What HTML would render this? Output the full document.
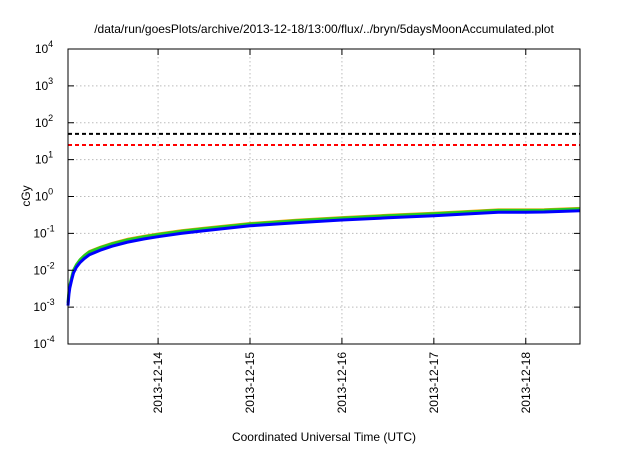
<!DOCTYPE html>
<html><head><meta charset="utf-8"><style>
body{margin:0;background:#fff;font-family:"Liberation Sans",sans-serif;}
svg text{font-family:"Liberation Sans",sans-serif;fill:#000;}
</style></head><body>
<svg width="640" height="448" id="c">
<text x="324" y="33" font-size="12" text-anchor="middle">/data/run/goesPlots/archive/2013-12-18/13:00/flux/../bryn/5daysMoonAccumulated.plot</text>
<text x="324" y="441" font-size="12" text-anchor="middle">Coordinated Universal Time (UTC)</text>
<text x="30" y="196" font-size="12" text-anchor="middle" transform="rotate(-90 30 196)">cGy</text>
<g id="grid"></g><g id="series"></g><g id="axes"></g>
</svg>
<script>
const xTickLabels=["2013-12-14","2013-12-15","2013-12-16","2013-12-17","2013-12-18"];
const xTickDays=[1,2,3,4,5];
const yTickExps=[-4,-3,-2,-1,0,1,2,3,4];
const days=[0.02,0.03,0.04,0.06,0.08,0.11,0.15,0.2,0.25,0.37,0.5,0.67,0.85,1.0,1.25,1.5,2.0,2.5,3.0,3.5,4.0,4.5,4.7,5.0,5.2,5.59];
const blue=[0.0011,0.0022,0.0033,0.0055,0.0085,0.012,0.016,0.021,0.026,0.035,0.045,0.058,0.071,0.081,0.1,0.118,0.16,0.195,0.23,0.265,0.3,0.35,0.375,0.375,0.38,0.41];
const green=[0.0013,0.0026,0.0039,0.0065,0.01,0.014,0.019,0.025,0.031,0.041,0.052,0.067,0.081,0.093,0.114,0.134,0.18,0.22,0.26,0.3,0.34,0.395,0.42,0.42,0.425,0.46];
const thresholds=[50,25];
const L=68,R=580,T=49,B=344,d0=0.02,d1=5.59;
const X=d=>L+(d-d0)/(d1-d0)*(R-L);
const Y=v=>B-(Math.log10(v)+4)/8*(B-T);
const ns="http://www.w3.org/2000/svg";
function mk(t,a,p){const e=document.createElementNS(ns,t);for(const k in a)e.setAttribute(k,a[k]);p.appendChild(e);return e;}
const grid=document.getElementById('grid'),ser=document.getElementById('series'),ax=document.getElementById('axes');
xTickDays.forEach((d,i)=>{
 const x=X(d);
 const g=mk('line',{x1:x,x2:x,y1:T,y2:B,stroke:'#bbb','stroke-dasharray':'1.5,2.5'},grid);
 
 
 const t=mk('line',{x1:x,x2:x,y1:B,y2:B-6,stroke:'#000'},ax);
 
 
 const t2=mk('line',{x1:x,x2:x,y1:T,y2:T+6,stroke:'#000'},ax);
 
 
 const lb=mk('text',{x:x+4,y:B+8,'font-size':12,'text-anchor':'end',transform:`rotate(-90 ${x+4} ${B+8})`},ax);
 lb.textContent=xTickLabels[i];
 
 
});
yTickExps.forEach(e=>{
 const y=Y(Math.pow(10,e));
 if(e>-4&&e<4){const g=mk('line',{x1:L,x2:R,y1:y,y2:y,stroke:'#bbb','stroke-dasharray':'1.5,2.5'},grid);
 
 }
 const t=mk('line',{x1:L,x2:L+6,y1:y,y2:y,stroke:'#000'},ax);
 
 
 const t2=mk('line',{x1:R,x2:R-6,y1:y,y2:y,stroke:'#000'},ax);
 
 
 const lb=mk('text',{x:L-24,y:y+4,'font-size':12,'text-anchor':'middle'},ax);
 lb.innerHTML='10<tspan dy="-6" font-size="9">'+e+'</tspan>';
 
 
});
const th=[['#000','threshold-50'],['#f00','threshold-25']];
thresholds.forEach((v,i)=>{
 const y=Y(v);
 const l=mk('line',{x1:L,x2:R,y1:y,y2:y,stroke:th[i][0],'stroke-width':2,'stroke-dasharray':'4,3'},ser);
 
 
});
function path(arr){return arr.map((v,i)=>(i?'L':'M')+X(days[i]).toFixed(1)+','+Y(v).toFixed(1)).join('');}
const pr=mk('path',{d:path(green),fill:'none',stroke:'#f5a000','stroke-width':1,transform:'translate(0,-1.5)'},ser);


const pg=mk('path',{d:path(green),fill:'none',stroke:'#2c2','stroke-width':3,'stroke-linejoin':'round'},ser);


const pb=mk('path',{d:path(blue),fill:'none',stroke:'#00f','stroke-width':3,'stroke-linejoin':'round'},ser);


const fr=mk('rect',{x:L,y:T,width:R-L,height:B-T,fill:'none',stroke:'#000','stroke-width':1},ax);


</script>
</body></html>
